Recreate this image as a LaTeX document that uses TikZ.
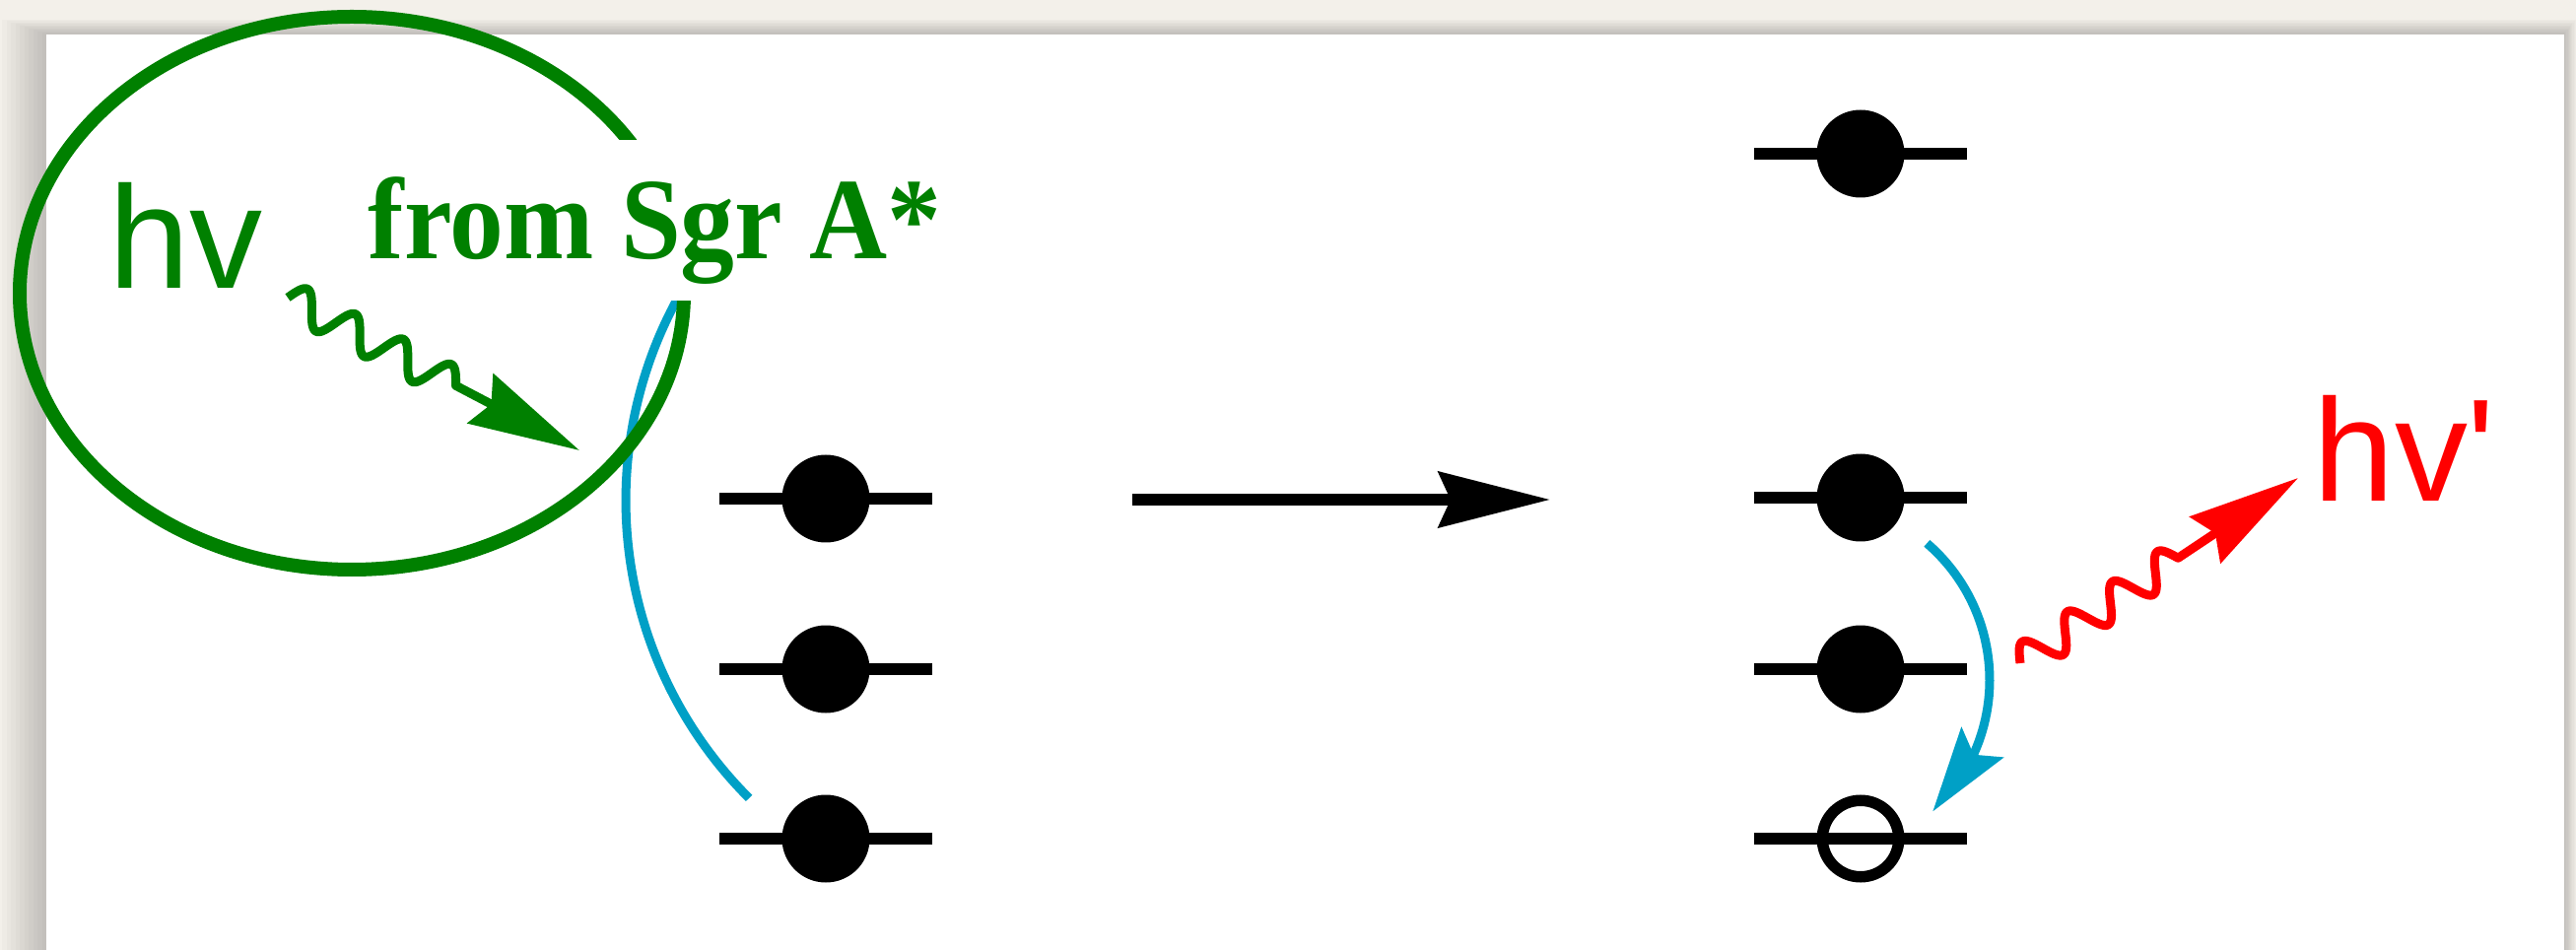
\documentclass[tikz,border=0pt]{standalone}
\usepackage{fontspec}
\newfontfamily\labelsans{Liberation Sans}[Ligatures=TeXOff]
\newfontfamily\labelserif{Liberation Serif}
\usetikzlibrary{arrows.meta,bending,calc}
\definecolor{photongreen}{RGB}{0,128,0}
\definecolor{photonred}{RGB}{255,0,0}
\definecolor{transblue}{RGB}{0,160,198}
\definecolor{paper}{RGB}{243,240,234}

\begin{document}
\begin{tikzpicture}[x=0.1mm,y=-0.1mm,
  levelline/.style={line width=1.2mm, black},
  electron/.style={circle, fill=black, inner sep=0pt, minimum size=8.9mm},
  hole/.style={circle, draw=black, line width=1.15mm, inner sep=0pt, minimum size=7.75mm},
  photon/.style={line width=0.9mm, line join=round},
  bigtip/.style={-{Stealth[length=11.3mm,width=5.6mm,inset=1.2mm]}},
  transition/.style={line width=0.9mm, transblue},
  bigtext/.style={font=\labelsans\fontsize{42.1pt}{48pt}\selectfont, anchor=base west, inner sep=0pt},
]
% page, card shadow and card
\useasboundingbox (0,0) rectangle (2614,964);
\fill[paper] (0,0) rectangle (2614,964);
\foreach \i in {1,...,10} {
  \fill[black, opacity=0.02] (47-4.5*\i, 35-1.5*\i) rectangle (2602+1.2*\i, 964);
}
\fill[white] (47,35) rectangle (2602,964);

% level positions
\coordinate (L1) at (838,506);
\coordinate (L2) at (838,679);
\coordinate (L3) at (838,851);
\coordinate (R0) at (1888,156);
\coordinate (R1) at (1888,505);
\coordinate (R2) at (1888,679);
\coordinate (R3) at (1888,851);

% transition in the absorbing atom (upper end hidden by the label)
\coordinate (bl0) at (760.1,809.9);
\draw[transition] (bl0) arc[start angle=135, end angle=208.5, radius=427];

% region of the incoming photon
\draw[photongreen, line width=1.4mm] (357,297.5) ellipse [x radius=337, y radius=280.5];

% source label on a white patch
\node[anchor=base west, fill=white, text=photongreen, inner xsep=1.5mm, inner ysep=0pt,
      text height=12.1mm, text depth=4.2mm] (src) at (358,263)
  {\scalebox{0.93}[1]{\labelserif\bfseries\fontsize{33.5pt}{38pt}\selectfont from Sgr A*}};

% incoming photon: sine wave along the line gS -> gT, then a straight tip
\node[bigtext, text=photongreen] (hv) at (110,293) {hv};
\coordinate (gS) at (292,302);
\coordinate (gT) at (588,457);
\begin{scope}[shift={(gS)}, rotate=-27.64]
  \draw[photongreen, photon, bigtip]
    plot[domain=0:192.5, samples=140] (\x, {-17*sin(\x/55*360)}) -- (gT);
\end{scope}

% energy levels
\foreach \p in {L1,L2,L3,R0,R1,R2,R3} {
  \draw[levelline] ($(\p)+(-108,0)$) -- ($(\p)+(108,0)$);
}
\foreach \p in {L1,L2,L3,R0,R1,R2} {
  \node[electron] (e\p) at (\p) {};
}
\node[hole] (hR3) at (R3) {};

% process arrow
\coordinate (aS) at (1149,507);
\coordinate (aE) at (1573,507);
\draw[line width=1.15mm, bigtip] (aS) -- (aE);

% downward transition in the emitting atom
\coordinate (br0) at (1955.3,551.3);
\draw[transition, -{Stealth[length=8.6mm,width=5.2mm,inset=1.5mm]}]
  (br0) arc[start angle=-49.3, end angle=46.8, radius=183];

% emitted photon
\coordinate (rS) at (2050,673);
\coordinate (rT) at (2332,485);
\begin{scope}[shift={(rS)}, rotate=33.69]
  \draw[photonred, photon, bigtip]
    plot[domain=0:192.5, samples=140] (\x, {-17*sin(\x/55*360)}) -- (rT);
\end{scope}
\node[bigtext, text=photonred] (hvp) at (2347,509) {hv'};
\end{tikzpicture}
\end{document}
